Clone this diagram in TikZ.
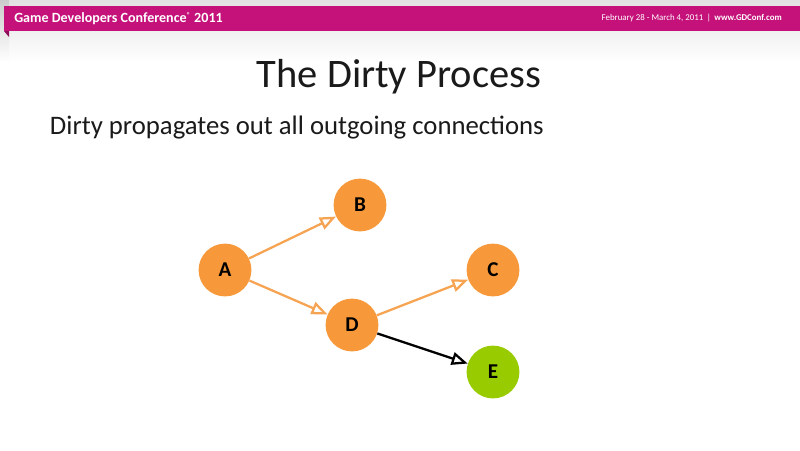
\documentclass[tikz,border=0pt]{standalone}
\usepackage{fontspec}
\setmainfont{Carlito}
\usetikzlibrary{arrows.meta,positioning,calc}
\definecolor{cBan}{HTML}{C4127A}
\definecolor{cBanD}{HTML}{8E0C57}
\definecolor{cNode}{HTML}{F7993A}
\definecolor{cEdge}{HTML}{F6A352}
\definecolor{cDone}{HTML}{99CC00}
\definecolor{cBG}{HTML}{E2E2E2}
\definecolor{cText}{HTML}{1A1A1A}
\tikzset{
  px/.style={x=0.025cm,y=-0.025cm},
  vtx/.style={circle,fill=cNode,minimum size=1.32cm,inner sep=0pt,
              font=\fontsize{15}{15}\selectfont\bfseries,text=black},
  vdone/.style={vtx,fill=cDone},
  flow/.style={-{Triangle[open,length=4mm,width=3.2mm]},line width=1.6pt,cEdge},
  flowk/.style={-{Triangle[open,length=4mm,width=3.2mm]},line width=1.6pt,black},
  bantxt/.style={font=\fontsize{10}{10}\selectfont\bfseries,text=white,inner sep=0pt},
}
\begin{document}
\begin{tikzpicture}[px]
\useasboundingbox (0,0) rectangle (800,450);

% ============ BACKGROUND ============
\fill[white] (0,0) rectangle (800,450);
\shade[top color=cBG,bottom color=white] (0,0) rectangle (800,62);
\shade[top color=cBG!90!black,bottom color=white] (0,0) rectangle (9,62);

% ============ BANNER ============
\fill[cBanD] (4,31) -- (9,31) -- (9,37) -- cycle;
\fill[cBan] (4,6) rectangle (800,31);
\node[bantxt,anchor=west] (conf) at (14,18.5) {Game Developers Conference\textsuperscript{\tiny\textregistered} 2011};
\node[bantxt,anchor=east,font=\fontsize{6.3}{6.3}\selectfont] (date) at (782,18.5)
   {\mdseries February 28 - March 4, 2011 \,|\, \bfseries www.GDConf.com};

% ============ TEXT ============
\node[font=\fontsize{28.8}{28.8}\selectfont,text=cText] (title) at (399,77) {The Dirty Process};
\node[font=\fontsize{19}{19}\selectfont,text=cText,anchor=west] (sub) at (45,128)
   {Dirty propagates out all outgoing connections};

% ============ GRAPH ============
\node[vtx] (A) at (225,270) {A};
\node[vtx] (B) at (360,205) {B};
\node[vtx] (C) at (493,270) {C};
\node[vtx] (D) at (352,325) {D};
\node[vdone] (E) at (493,372) {E};

% ---------- edges ----------
\draw[flow] (A) -- (B);
\draw[flow] (A) -- (D);
\draw[flow] (D) -- (C);
\draw[flowk] (D) -- (E);

\end{tikzpicture}
\end{document}
